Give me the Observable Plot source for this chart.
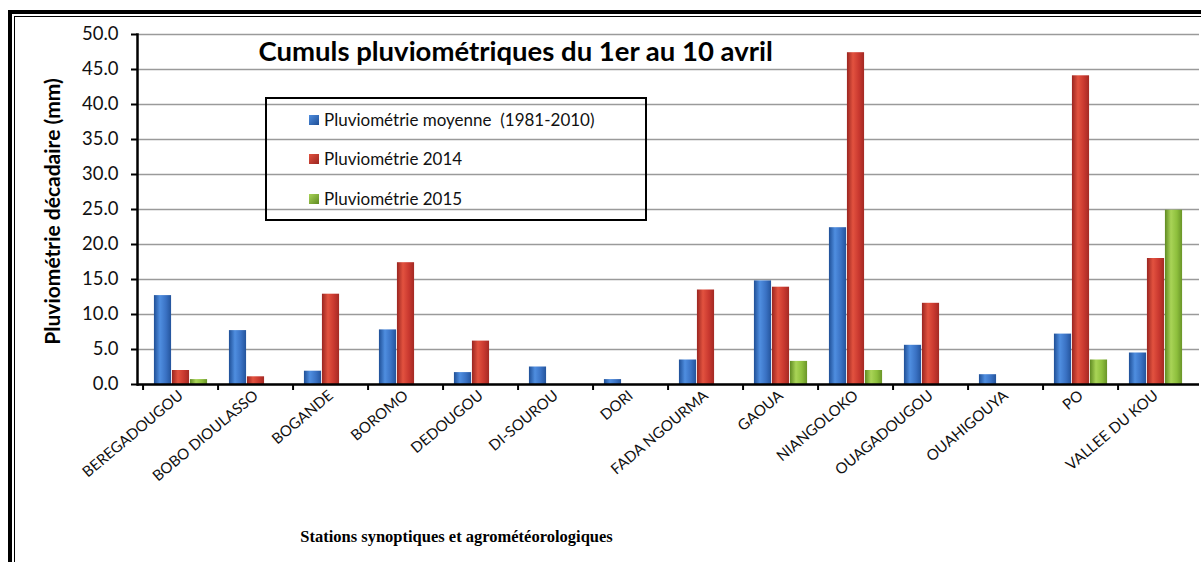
<!DOCTYPE html>
<html>
<head>
<meta charset="utf-8">
<script src="https://cdn.jsdelivr.net/npm/d3@7"></script>
<script src="https://cdn.jsdelivr.net/npm/@observablehq/plot@0.6"></script>
<style>
  html, body { margin: 0; padding: 0; background: #fff; }
  #wrap { position: relative; width: 1201px; height: 562px; overflow: hidden; font-family: Lato, sans-serif; }
  #frameOuter { position: absolute; left: 8px; top: 10px; width: 1300px; height: 700px; border-left: 4px solid #000; border-top: 4px solid #000; }
  #frameInner { position: absolute; left: 14px; top: 16px; width: 1300px; height: 700px; border-left: 1.5px solid #000; border-top: 1.5px solid #000; }
  #legend { position: absolute; left: 265px; top: 97px; width: 378px; height: 120px; border: 2.5px solid #000; }
  .item { position: absolute; left: 42px; font-size: 17px; color: #111; display: flex; align-items: center; }
  .sw { width: 10px; height: 10px; margin-right: 5px; }
</style>
</head>
<body>
<div id="wrap">
  <div id="frameOuter"></div>
  <div id="frameInner"></div>
  <div id="chart"></div>
  <div id="legend"></div>
</div>
<script>
const stations = ["BEREGADOUGOU","BOBO DIOULASSO","BOGANDE","BOROMO","DEDOUGOU","DI-SOUROU","DORI","FADA NGOURMA","GAOUA","NIANGOLOKO","OUAGADOUGOU","OUAHIGOUYA","PO","VALLEE DU KOU"];
const seriesNames = ["Pluviométrie moyenne  (1981-2010)", "Pluviométrie 2014", "Pluviométrie 2015"];
const moyenne = [12.7, 7.7, 1.9, 7.8, 1.7, 2.5, 0.7, 3.5, 14.8, 22.4, 5.6, 1.4, 7.2, 4.5];
const pluvio2014 = [2.0, 1.1, 12.9, 17.4, 6.2, 0, 0, 13.5, 13.9, 47.4, 11.6, 0, 44.1, 18.0];
const pluvio2015 = [0.7, 0, 0, 0, 0, 0, 0, 0, 3.3, 2.0, 0, 0, 3.5, 24.9];
const yTicks = [0, 5, 10, 15, 20, 25, 30, 35, 40, 45, 50];
const colors = ["#3a72c4", "#c9382f", "#8dbf3c"];
const gradStops = [
  ["#1f4f96", "#4f8ee0", "#3a72c4", "#24549c"],
  ["#9a2520", "#e2523f", "#c9382f", "#a32a24"],
  ["#5f8a22", "#a9d457", "#8dbf3c", "#6a9528"]
];
const title = "Cumuls pluviométriques du 1er au 10 avril";
const yLabel = "Pluviométrie décadaire (mm)";
const xLabel = "Stations synoptiques et agrométéorologiques";

const W = 1201, H = 562, mL = 137, mR = 2, mT = 34, mB = 178;
const bw = (W - mL - mR) / stations.length;
const barW = 18;
const pad = (bw - 3 * barW) / 2;

const allSeries = [moyenne, pluvio2014, pluvio2015];
const barMarks = allSeries.map((vals, i) => {
  const rows = stations.map((s, j) => ({station: s, value: vals[j]})).filter(d => d.value > 0);
  return Plot.barY(rows, {
    x: "station", y: "value", fill: colors[i],
    insetLeft: pad + i * barW, insetRight: bw - pad - (i + 1) * barW
  });
});

const plot = Plot.plot({
  width: W, height: H,
  marginLeft: mL, marginRight: mR, marginTop: mT, marginBottom: mB,
  style: {fontFamily: "Lato, sans-serif", background: "transparent", overflow: "visible"},
  x: {domain: stations, paddingInner: 0, paddingOuter: 0, label: null},
  y: {domain: [0, 50], label: null},
  marks: [
    Plot.gridY(yTicks, {stroke: "#9a9a9a", strokeOpacity: 1, strokeWidth: 1.5}),
    ...barMarks,
    Plot.axisY(yTicks, {tickFormat: d3.format(".1f"), tickSize: 6, tickPadding: 13, fontSize: 18.5, stroke: "#000", strokeWidth: 2, fill: "#111", label: null}),
    Plot.axisX({tickSize: 6, dx: -bw / 2, tickFormat: () => "", stroke: "#000", strokeWidth: 2, label: null}),
    Plot.axisX({tickSize: 0, tickRotate: -40, tickPadding: 9, fontSize: 15, fill: "#111", label: null}),
    Plot.frame({anchor: "left", stroke: "#000", strokeWidth: 2.5}),
    Plot.ruleY([0], {stroke: "#000", strokeWidth: 2.5}),
    Plot.text([title], {frameAnchor: "top-left", dx: 258 - mL, dy: 52 - mT, textAnchor: "start", lineAnchor: "middle", fontWeight: "bold", fontSize: 27.5, fill: "#000"}),
    Plot.text([yLabel], {frameAnchor: "left", dx: 53 - mL, dy: 2, rotate: -90, textAnchor: "middle", lineAnchor: "middle", fontWeight: "bold", fontSize: 21, fill: "#000"}),
    Plot.text([xLabel], {frameAnchor: "bottom-left", dx: 456 - mL, dy: 536 - (H - mB), textAnchor: "middle", lineAnchor: "middle", fontWeight: "bold", fontSize: 16.5, fontFamily: "Liberation Serif, serif", fill: "#000"})
  ]
});

// gradients for the 3D-ish bars
const ns = "http://www.w3.org/2000/svg";
const defs = document.createElementNS(ns, "defs");
gradStops.forEach((stops, i) => {
  const g = document.createElementNS(ns, "linearGradient");
  g.setAttribute("id", "grad" + i);
  g.setAttribute("x1", "0"); g.setAttribute("x2", "1"); g.setAttribute("y1", "0"); g.setAttribute("y2", "0");
  [0, 0.35, 0.7, 1].forEach((o, k) => {
    const s = document.createElementNS(ns, "stop");
    s.setAttribute("offset", o);
    s.setAttribute("stop-color", stops[k]);
    g.appendChild(s);
  });
  defs.appendChild(g);
});
plot.insertBefore(defs, plot.firstChild);
plot.querySelectorAll('g[aria-label="bar"]').forEach((g, i) => {
  g.setAttribute("fill", "url(#grad" + i + ")");
  g.querySelectorAll("rect").forEach(r => r.setAttribute("fill", "url(#grad" + i + ")"));
});
plot.style.position = "absolute";
plot.style.left = "0px";
plot.style.top = "0px";
document.getElementById("chart").appendChild(plot);

// legend
const legend = document.getElementById("legend");
const rowTops = [10, 49, 89];
seriesNames.forEach((name, i) => {
  const item = document.createElement("div");
  item.className = "item";
  item.style.top = rowTops[i] + "px";
  const sw = document.createElement("div");
  sw.className = "sw";
  sw.style.background = `linear-gradient(135deg, ${gradStops[i][1]}, ${gradStops[i][0]})`;
  item.appendChild(sw);
  const t = document.createElement("span");
  t.textContent = name;
  t.style.whiteSpace = "pre";
  item.appendChild(t);
  legend.appendChild(item);
});
</script>
</body>
</html>
